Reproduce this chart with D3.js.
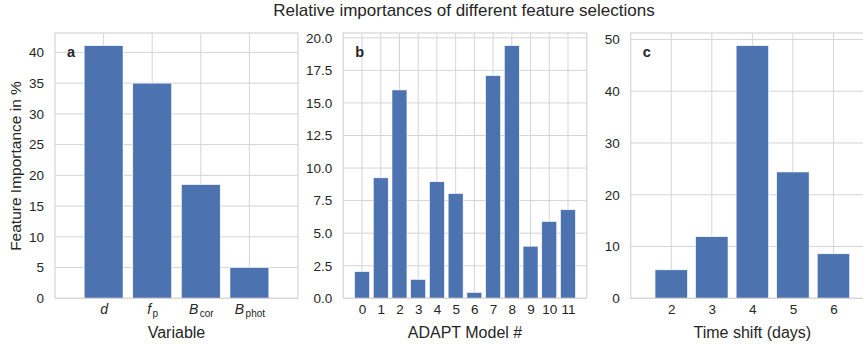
<!DOCTYPE html>
<html>
<head><meta charset="utf-8">
<title>Relative importances</title>
<style>
body { margin:0; background:#fff; }
svg { display:block; font-family:"Liberation Sans", Arial, sans-serif; }
</style>
</head>
<body>
<svg width="863" height="345"></svg>
<script src="https://d3js.org/d3.v7.min.js"></script>
<script>
// panel a: input variables (name_subscript)
var variables = ["d", "f_p", "B_cor", "B_phot"];
var importanceA = [41.1, 35.0, 18.5, 5.0];
// panel b: ADAPT models
var models = [0, 1, 2, 3, 4, 5, 6, 7, 8, 9, 10, 11];
var importanceB = [2.05, 9.25, 16.0, 1.45, 8.95, 8.05, 0.45, 17.1, 19.4, 4.0, 5.9, 6.8];
// panel c: time shift in days
var shifts = [2, 3, 4, 5, 6];
var importanceC = [5.5, 11.9, 48.8, 24.4, 8.6];

var svg = d3.select("svg");
var top_ = 33, bottom = 298.3;
var barColor = "#4c72b0", gridColor = "#d5d5d5", textColor = "#262626";

svg.append("text")
  .attr("x", 464).attr("y", 16)
  .attr("text-anchor", "middle")
  .attr("font-size", 17)
  .attr("fill", textColor)
  .text("Relative importances of different feature selections");

function panel(opt) {
  var g = svg.append("g");
  var x = d3.scaleLinear().domain(opt.xlim).range([opt.left, opt.right]);
  var ymax = d3.max(opt.values) * 1.05;
  var y = d3.scaleLinear().domain([0, ymax]).range([bottom, top_]);
  var yt = d3.range(0, ymax + 1e-9, opt.ystep);

  // grid
  g.selectAll(".hg").data(yt).enter().append("line")
    .attr("x1", opt.left).attr("x2", opt.right)
    .attr("y1", function(d) { return y(d); }).attr("y2", function(d) { return y(d); })
    .attr("stroke", gridColor).attr("stroke-width", 1);
  g.selectAll(".vg").data(opt.pos).enter().append("line")
    .attr("x1", function(d) { return x(d); }).attr("x2", function(d) { return x(d); })
    .attr("y1", top_).attr("y2", bottom)
    .attr("stroke", gridColor).attr("stroke-width", 1);

  // bars
  g.selectAll(".bar").data(opt.values).enter().append("rect")
    .attr("x", function(d, i) { return x(opt.pos[i] - 0.4); })
    .attr("width", function(d, i) { return x(opt.pos[i] + 0.4) - x(opt.pos[i] - 0.4); })
    .attr("y", function(d) { return y(d); })
    .attr("height", function(d) { return y(0) - y(d); })
    .attr("fill", barColor)
    .attr("stroke", "#fff").attr("stroke-width", 0.6);

  // spines
  g.append("rect")
    .attr("x", opt.left).attr("y", top_)
    .attr("width", opt.right - opt.left).attr("height", bottom - top_)
    .attr("fill", "none").attr("stroke", gridColor).attr("stroke-width", 1.2);

  // y axis
  var ya = g.append("g").attr("transform", "translate(" + opt.left + ",0)")
    .call(d3.axisLeft(y).tickValues(yt).tickSize(0).tickPadding(11).tickFormat(opt.yfmt));
  // x axis
  var xa = g.append("g").attr("transform", "translate(0," + bottom + ")")
    .call(d3.axisBottom(x).tickValues(opt.pos).tickSize(0).tickPadding(6)
      .tickFormat(function(d, i) { return opt.labels[i]; }));
  [ya, xa].forEach(function(a) {
    a.select(".domain").remove();
    a.selectAll("text").attr("font-size", 13.5).attr("fill", textColor)
      .attr("font-family", "Liberation Sans, Arial, sans-serif");
  });
  if (opt.rich) {
    xa.selectAll("text").each(function(d, i) {
      var parts = opt.labels[i].split("_");
      var t = d3.select(this).text(null);
      t.append("tspan").attr("font-style", "italic").attr("font-size", 14).text(parts[0]);
      if (parts[1]) t.append("tspan").attr("font-size", 10).attr("dx", 1.5).attr("dy", 3.5).text(parts[1]);
    });
  }

  g.append("text")
    .attr("x", (opt.left + opt.right) / 2).attr("y", 338)
    .attr("text-anchor", "middle").attr("font-size", 16).attr("fill", textColor)
    .text(opt.xlabel);

  g.append("text")
    .attr("x", opt.left + 12).attr("y", 57)
    .attr("font-size", 14.5).attr("font-weight", "bold").attr("fill", textColor)
    .text(opt.tag);
  return g;
}

panel({ left: 55, right: 298, xlim: [0, 5], pos: [1, 2, 3, 4], labels: variables, rich: true,
  values: importanceA, ystep: 5, yfmt: d3.format("d"), xlabel: "Variable", tag: "a" });
panel({ left: 343.3, right: 586.7, xlim: [-1, 12], pos: models, labels: models.map(String),
  values: importanceB, ystep: 2.5, yfmt: d3.format(".1f"), xlabel: "ADAPT Model #", tag: "b" });
panel({ left: 630.7, right: 874, xlim: [1, 7], pos: shifts, labels: shifts.map(String),
  values: importanceC, ystep: 10, yfmt: d3.format("d"), xlabel: "Time shift (days)", tag: "c" });

svg.append("text")
  .attr("transform", "translate(21,166) rotate(-90)")
  .attr("text-anchor", "middle").attr("font-size", 15.5).attr("fill", textColor)
  .text("Feature Importance in %");
</script>
</body>
</html>
